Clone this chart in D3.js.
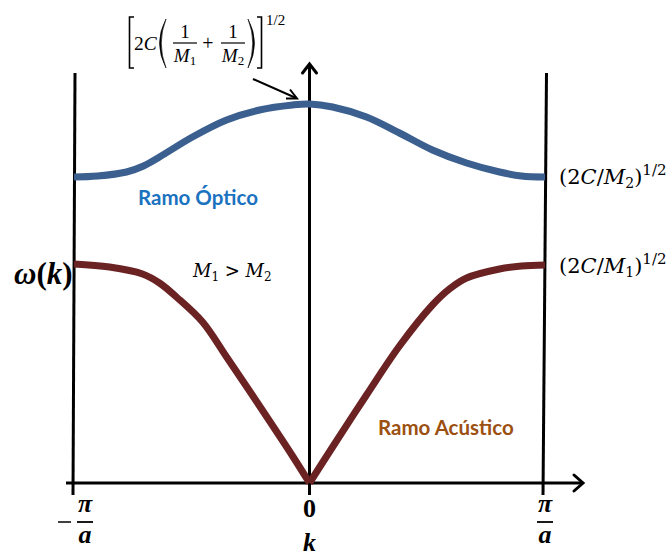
<!DOCTYPE html>
<html>
<head>
<meta charset="utf-8">
<script src="https://cdn.jsdelivr.net/npm/d3@7"></script>
<style>
  html, body { margin: 0; padding: 0; background: #fff; }
  svg { display: block; }
  .math { font-family: "Liberation Serif", "DejaVu Serif", serif; }
  .math2 { font-family: "DejaVu Serif", "Liberation Serif", serif; }
  .ramo { font-family: Lato, "Open Sans", sans-serif; font-weight: bold; }
</style>
</head>
<body>
<svg id="chart" width="672" height="558"></svg>
<script>
// Wave number k in units of pi/a, frequency omega in arbitrary units
const kOptico = [-1, -0.9, -0.777, -0.705, -0.637, -0.497, -0.352, -0.212, -0.072, 0, 0.098, 0.242, 0.382, 0.522, 0.667, 0.807, 0.9, 1];
const wOptico = [3.06, 3.07, 3.11, 3.17, 3.26, 3.46, 3.63, 3.73, 3.78, 3.79, 3.76, 3.66, 3.50, 3.33, 3.20, 3.11, 3.07, 3.06];

// Acoustic branch, left half (k <= 0) and right half (k >= 0)
const kAcusticoIzq = [-1, -0.849, -0.709, -0.637, -0.565, -0.454, -0.352, -0.212, -0.072, 0];
const wAcusticoIzq = [2.19, 2.16, 2.09, 2.00, 1.86, 1.61, 1.26, 0.77, 0.27, 0.0];
const kAcusticoDer = [0, 0.098, 0.242, 0.382, 0.522, 0.594, 0.667, 0.807, 0.9, 1];
const wAcusticoDer = [0.0, 0.36, 0.88, 1.37, 1.78, 1.94, 2.05, 2.14, 2.17, 2.18];

// Tick positions on the k axis
const kTicks = [-1, 0, 1];

const svg = d3.select("#chart");
const x = d3.scaleLinear().domain([-1, 1]).range([74, 545]);
const y = d3.scaleLinear().domain([0, 4.83]).range([483, 0]);

const line = d3.line().x(d => x(d[0])).y(d => y(d[1])).curve(d3.curveCatmullRom.alpha(0.5));

// --- axes ---
const axisColor = "#000";
// k axis
svg.append("line").attr("x1", 66).attr("x2", 583).attr("y1", y(0)).attr("y2", y(0))
  .attr("stroke", axisColor).attr("stroke-width", 3);
svg.append("path").attr("d", `M574,${y(0) - 8} L583,${y(0)} L574,${y(0) + 8}`)
  .attr("fill", "none").attr("stroke", axisColor).attr("stroke-width", 3)
  .attr("stroke-linecap", "round").attr("stroke-linejoin", "miter");

// omega axis at k = 0
svg.append("line").attr("x1", x(0)).attr("x2", x(0)).attr("y1", 64).attr("y2", 495)
  .attr("stroke", axisColor).attr("stroke-width", 3);
svg.append("path").attr("d", `M${x(0) - 7},73 L${x(0)},64 L${x(0) + 7},73`)
  .attr("fill", "none").attr("stroke", axisColor).attr("stroke-width", 3)
  .attr("stroke-linecap", "round");

// zone boundary lines at k = -pi/a and k = pi/a
svg.append("line").attr("x1", x(-1) + 1).attr("x2", x(-1) - 1).attr("y1", 73).attr("y2", 495)
  .attr("stroke", axisColor).attr("stroke-width", 3);
svg.append("line").attr("x1", x(1) + 1.5).attr("x2", x(1) - 2).attr("y1", 73).attr("y2", 495)
  .attr("stroke", axisColor).attr("stroke-width", 3);

// --- dispersion branches ---
svg.append("path").datum(d3.zip(kOptico, wOptico)).attr("d", line)
  .attr("fill", "none").attr("stroke", "#3b5f8f").attr("stroke-width", 7).attr("stroke-linecap", "butt");

[d3.zip(kAcusticoIzq, wAcusticoIzq), d3.zip(kAcusticoDer, wAcusticoDer)].forEach(pts => {
  svg.append("path").datum(pts).attr("d", line)
    .attr("fill", "none").attr("stroke", "#6b2222").attr("stroke-width", 7).attr("stroke-linecap", "butt");
});

// --- k axis tick labels ---
const tickG = svg.append("g").attr("class", "math").attr("font-weight", "bold");
kTicks.forEach(k => {
  if (k === 0) {
    tickG.append("text").attr("x", x(0)).attr("y", 517).attr("text-anchor", "middle")
      .attr("font-size", 26).text("0");
  } else {
    const cx = k < 0 ? x(k) + 11 : x(k);
    tickG.append("text").attr("x", cx).attr("y", 512).attr("text-anchor", "middle")
      .attr("font-size", 26).attr("font-style", "italic").text("π");
    tickG.append("line").attr("x1", cx - 8).attr("x2", cx + 8).attr("y1", 522).attr("y2", 522)
      .attr("stroke", "#000").attr("stroke-width", 1.8);
    tickG.append("text").attr("x", cx).attr("y", 543).attr("text-anchor", "middle")
      .attr("font-size", 26).attr("font-style", "italic").text("a");
    if (k < 0) {
      tickG.append("line").attr("x1", cx - 27).attr("x2", cx - 14).attr("y1", 522).attr("y2", 522)
        .attr("stroke", "#000").attr("stroke-width", 1.5);
    }
  }
});
svg.append("text").attr("class", "math").attr("x", x(0)).attr("y", 551)
  .attr("text-anchor", "middle").attr("font-size", 26).attr("font-weight", "bold")
  .attr("font-style", "italic").text("k");

// --- omega(k) label ---
const wl = svg.append("text").attr("class", "math").attr("x", 14).attr("y", 284)
  .attr("font-size", 31).attr("font-weight", "bold");
wl.append("tspan").attr("font-style", "italic").text("ω");
wl.append("tspan").text("(");
wl.append("tspan").attr("font-style", "italic").text("k");
wl.append("tspan").text(")");

// --- M1 > M2 ---
const mm = svg.append("text").attr("class", "math2").attr("x", 193).attr("y", 277).attr("font-size", 18);
mm.append("tspan").attr("font-style", "italic").text("M");
mm.append("tspan").attr("font-size", 12).attr("dy", 4).text("1");
mm.append("tspan").attr("dy", -4).text(" > ");
mm.append("tspan").attr("font-style", "italic").text("M");
mm.append("tspan").attr("font-size", 12).attr("dy", 4).text("2");

// --- zone-boundary frequency labels ---
function limitLabel(yBase, sub) {
  const t = svg.append("text").attr("class", "math2").attr("x", 559).attr("y", yBase).attr("font-size", 21);
  t.append("tspan").text("(2");
  t.append("tspan").attr("font-style", "italic").text("C");
  t.append("tspan").text("/");
  t.append("tspan").attr("font-style", "italic").text("M");
  t.append("tspan").attr("font-size", 14).attr("dy", 4).text(sub);
  t.append("tspan").attr("dy", -4).text(")");
  t.append("tspan").attr("font-size", 15).attr("dy", -9).text("1/2");
}
limitLabel(184, "2");
limitLabel(273, "1");

// --- branch names ---
svg.append("text").attr("class", "ramo").attr("x", 138).attr("y", 205)
  .attr("font-size", 20.5).attr("fill", "#1a72c0").text("Ramo Óptico");
svg.append("text").attr("class", "ramo").attr("x", 378).attr("y", 435)
  .attr("font-size", 20.5).attr("fill", "#9c5012").text("Ramo Acústico");

// --- maximum optical frequency formula ---
const f = svg.append("g").attr("class", "math");
// square brackets
f.append("path").attr("d", "M134,17 L129.5,17 L129.5,68 L134,68")
  .attr("fill", "none").attr("stroke", "#000").attr("stroke-width", 1.6);
f.append("path").attr("d", "M257,17 L261.5,17 L261.5,68 L257,68")
  .attr("fill", "none").attr("stroke", "#000").attr("stroke-width", 1.6);
// large parentheses as thin crescents
f.append("path").attr("d", "M166,19 Q153,43 166,68 Q156.5,43 166,19 Z")
  .attr("fill", "#000").attr("stroke", "#000").attr("stroke-width", 0.6);
f.append("path").attr("d", "M248,19 Q261,43 248,68 Q257.5,43 248,19 Z")
  .attr("fill", "#000").attr("stroke", "#000").attr("stroke-width", 0.6);
// 2C
const t2c = f.append("text").attr("x", 134).attr("y", 50).attr("font-size", 19.5);
t2c.append("tspan").text("2");
t2c.append("tspan").attr("font-style", "italic").text("C");
// fractions
[[185, "1"], [233, "2"]].forEach(([cx, sub]) => {
  f.append("text").attr("x", cx).attr("y", 38).attr("text-anchor", "middle").attr("font-size", 19).text("1");
  f.append("line").attr("x1", cx - 12).attr("x2", cx + 12).attr("y1", 43).attr("y2", 43)
    .attr("stroke", "#000").attr("stroke-width", 1.2);
  const m = f.append("text").attr("x", cx).attr("y", 62).attr("text-anchor", "middle").attr("font-size", 19);
  m.append("tspan").attr("font-style", "italic").text("M");
  m.append("tspan").attr("font-size", 13).attr("dy", 3).text(sub);
});
f.append("text").attr("x", 208).attr("y", 50).attr("text-anchor", "middle").attr("font-size", 20).text("+");
f.append("text").attr("x", 266).attr("y", 25).attr("font-size", 15).text("1/2");

// pointer arrow to the maximum
svg.append("line").attr("x1", 253).attr("y1", 79).attr("x2", 296).attr("y2", 98)
  .attr("stroke", "#000").attr("stroke-width", 2);
svg.append("path").attr("d", "M286,98.5 L297,98.5 L290,89.5")
  .attr("fill", "none").attr("stroke", "#000").attr("stroke-width", 2).attr("stroke-linejoin", "miter");
</script>
</body>
</html>
